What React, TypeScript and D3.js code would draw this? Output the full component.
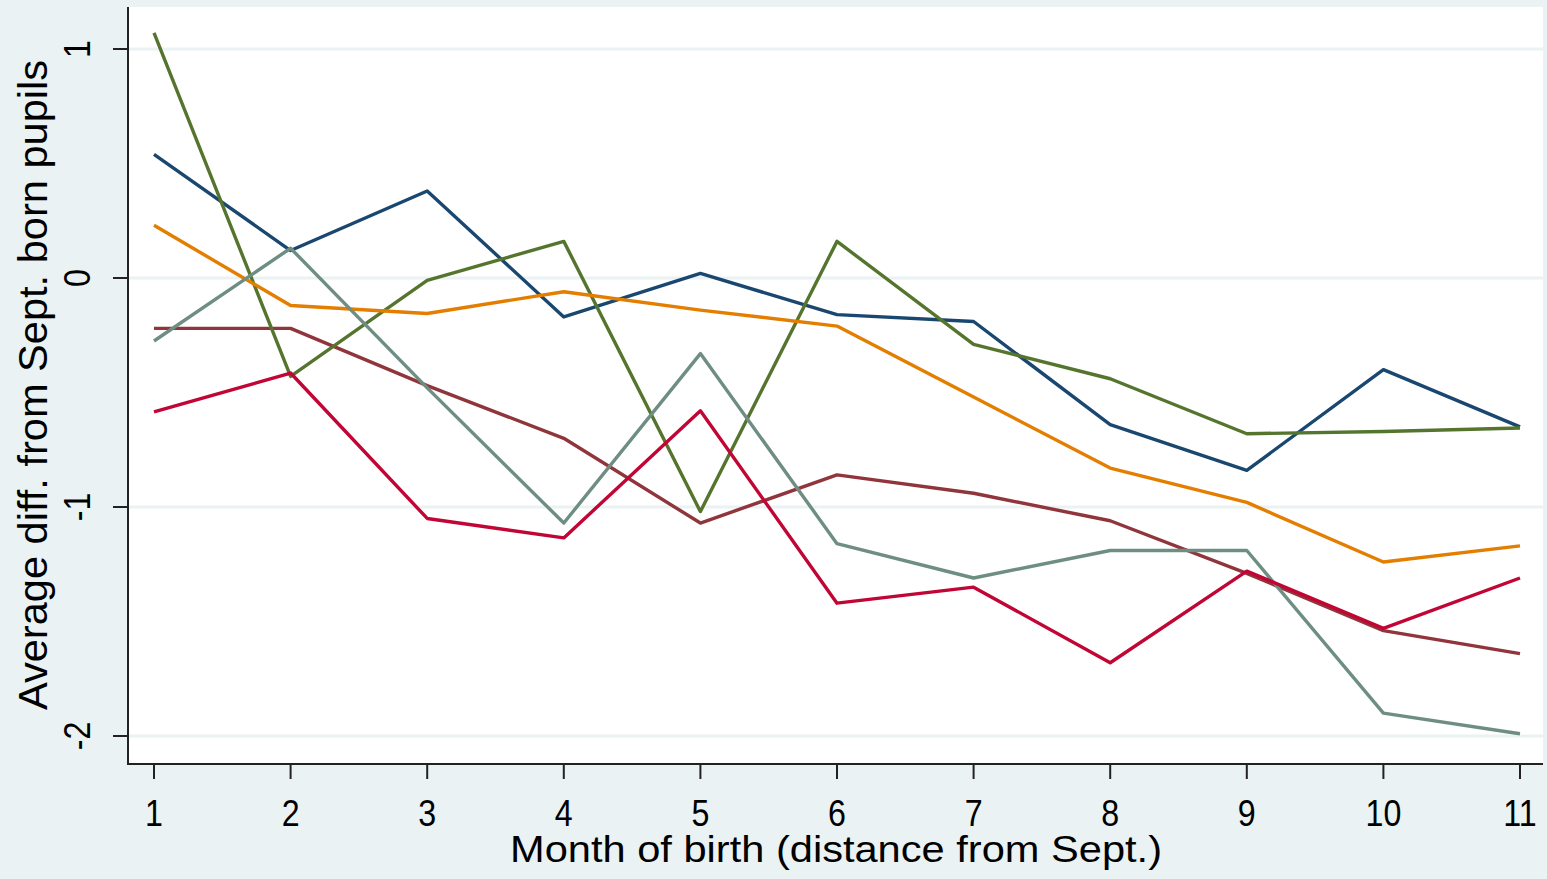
import React from 'react'
import * as d3 from 'd3'

const months = [1, 2, 3, 4, 5, 6, 7, 8, 9, 10, 11]
const yTicks = [1, 0, -1, -2]

const navy = [0.54, 0.12, 0.38, -0.17, 0.02, -0.16, -0.19, -0.64, -0.84, -0.4, -0.65]
const maroon = [-0.22, -0.22, -0.47, -0.7, -1.07, -0.86, -0.94, -1.06, -1.29, -1.54, -1.64]
const green = [1.07, -0.43, -0.01, 0.16, -1.02, 0.16, -0.29, -0.44, -0.68, -0.67, -0.655]
const orange = [0.23, -0.12, -0.155, -0.06, -0.14, -0.21, -0.52, -0.83, -0.98, -1.24, -1.17]
const teal = [-0.275, 0.13, -0.48, -1.07, -0.33, -1.16, -1.31, -1.19, -1.19, -1.9, -1.99]
const cranberry = [-0.585, -0.415, -1.05, -1.135, -0.58, -1.42, -1.35, -1.68, -1.28, -1.53, -1.31]

const series = [
  { name: 'navy', color: '#1a476f', values: navy },
  { name: 'maroon', color: '#90353b', values: maroon },
  { name: 'green', color: '#55752f', values: green },
  { name: 'orange', color: '#e37e00', values: orange },
  { name: 'teal', color: '#6e8e84', values: teal },
  { name: 'cranberry', color: '#c10534', values: cranberry }
]

const W = 1547,
  H = 879,
  plot = { left: 128, right: 1543, top: 7, bottom: 764 }

export default function App() {
  const x = d3.scaleLinear().domain([1, 11]).range([154, 1520])
  const y = d3.scaleLinear().domain([1, 0]).range([49, 278])

  const line = d3
    .line<number>()
    .x((d, i) => x(months[i]))
    .y(d => y(d))

  const font = '"Liberation Sans", Arial, sans-serif'

  return (
    <svg
      width={W}
      height={H}
      style={{ position: 'fixed', left: 0, top: 0 }}
      fontFamily={font}>
      <rect width={W} height={H} fill='#eaf2f3' />
      <rect
        x={plot.left}
        y={plot.top}
        width={plot.right - plot.left}
        height={plot.bottom - plot.top}
        fill='#fff'
      />

      {yTicks.map(t => (
        <line
          key={'g' + t}
          x1={plot.left}
          x2={plot.right}
          y1={y(t)}
          y2={y(t)}
          stroke='#eaf2f3'
          strokeWidth={3}
        />
      ))}

      {series.map(s => (
        <path
          key={s.name}
          d={line(s.values) || ''}
          fill='none'
          stroke={s.color}
          strokeWidth={3.4}
          strokeLinejoin='round'
        />
      ))}

      <line x1={plot.left} x2={plot.left} y1={plot.top} y2={plot.bottom + 1} stroke='#222' strokeWidth={2} />
      <line x1={plot.left - 1} x2={plot.right} y1={plot.bottom} y2={plot.bottom} stroke='#222' strokeWidth={2} />

      {yTicks.map(t => (
        <g key={'y' + t}>
          <line x1={113} x2={plot.left} y1={y(t)} y2={y(t)} stroke='#222' strokeWidth={2} />
          <text
            transform={`translate(90,${y(t)}) rotate(-90) scale(0.92,1.08)`}
            textAnchor='middle'
            fontSize={35}
            fill='#000'>
            {t}
          </text>
        </g>
      ))}

      {months.map(m => (
        <g key={'x' + m}>
          <line x1={x(m)} x2={x(m)} y1={plot.bottom} y2={779} stroke='#222' strokeWidth={2} />
          <text
            transform={`translate(${x(m)},826) scale(0.92,1.08)`}
            textAnchor='middle'
            fontSize={35}
            fill='#000'>
            {m}
          </text>
        </g>
      ))}

      <text
        x={836}
        y={862}
        textAnchor='middle'
        fontSize={37}
        textLength={652}
        lengthAdjust='spacingAndGlyphs'
        fill='#000'>
        Month of birth (distance from Sept.)
      </text>
      <text
        transform={`translate(47,385) rotate(-90)`}
        textAnchor='middle'
        fontSize={40}
        textLength={650}
        lengthAdjust='spacingAndGlyphs'
        fill='#000'>
        Average diff. from Sept. born pupils
      </text>
    </svg>
  )
}
